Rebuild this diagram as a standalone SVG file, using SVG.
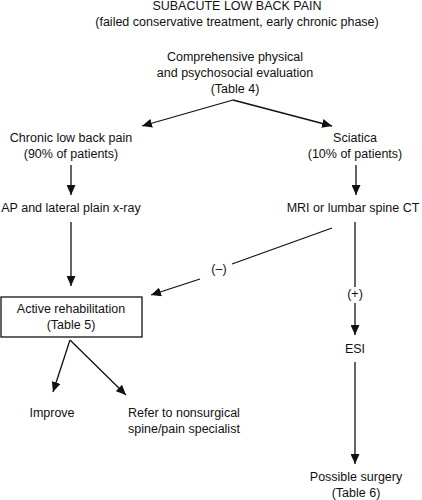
<svg xmlns="http://www.w3.org/2000/svg" width="422" height="500" viewBox="0 0 422 500">
<style>
text{font-family:"Liberation Sans",Arial,sans-serif;font-size:12.5px;fill:#111;text-anchor:middle}
.l{text-anchor:start}
.c{stroke:#111;stroke-width:1.3;fill:none}
</style>
<defs>
<marker id="ah" markerUnits="userSpaceOnUse" markerWidth="10" markerHeight="9" refX="10" refY="4.5" orient="auto"><path d="M0,0 L10,4.5 L0,9 z" fill="#111"/></marker>
</defs>
<rect width="422" height="500" fill="#fff"/>
<g id="title"><text x="237" y="9.5">SUBACUTE LOW BACK PAIN</text><text x="237" y="26">(failed conservative treatment, early chronic phase)</text></g>
<g id="evaluation"><text x="235" y="61">Comprehensive physical</text><text x="235" y="77">and psychosocial evaluation</text><text x="235" y="93">(Table 4)</text></g>
<g id="chronic"><text x="71" y="142">Chronic low back pain</text><text x="71" y="158">(90% of patients)</text></g>
<g id="sciatica"><text x="355" y="142">Sciatica</text><text x="355" y="158">(10% of patients)</text></g>
<g id="xray"><text x="71" y="212">AP and lateral plain x-ray</text></g>
<g id="mri"><text x="353" y="212">MRI or lumbar spine CT</text></g>
<g id="rehab"><rect x="1" y="297" width="141" height="40" fill="none" stroke="#111" stroke-width="1.3"/><text x="71" y="313">Active rehabilitation</text><text x="71" y="329">(Table 5)</text></g>
<g id="esi"><text x="355" y="353">ESI</text></g>
<g id="improve"><text x="52" y="417">Improve</text></g>
<g id="refer"><text class="l" x="128" y="417">Refer to nonsurgical</text><text class="l" x="128" y="433">spine/pain specialist</text></g>
<g id="surgery"><text x="356" y="481">Possible surgery</text><text x="356" y="497">(Table 6)</text></g>
<g id="labels"><text x="219" y="273">(–)</text><text x="355" y="298">(+)</text></g>
<g id="connectors" class="c">
<path class="c" d="M233,100 L142,126" marker-end="url(#ah)"/>
<path class="c" d="M233,100 L332,126" marker-end="url(#ah)"/>
<path class="c" d="M71,165 V195" marker-end="url(#ah)"/>
<path class="c" d="M356,165 V195" marker-end="url(#ah)"/>
<path class="c" d="M71,222 V286" marker-end="url(#ah)"/>
<path class="c" d="M332,228 L232,264"/>
<path class="c" d="M200,279 L151,295" marker-end="url(#ah)"/>
<path class="c" d="M355,222 V287"/>
<path class="c" d="M355,303 V335" marker-end="url(#ah)"/>
<path class="c" d="M70,340 L53,392" marker-end="url(#ah)"/>
<path class="c" d="M70,340 L126,395" marker-end="url(#ah)"/>
<path class="c" d="M355,362 V464" marker-end="url(#ah)"/>
</g>
</svg>
